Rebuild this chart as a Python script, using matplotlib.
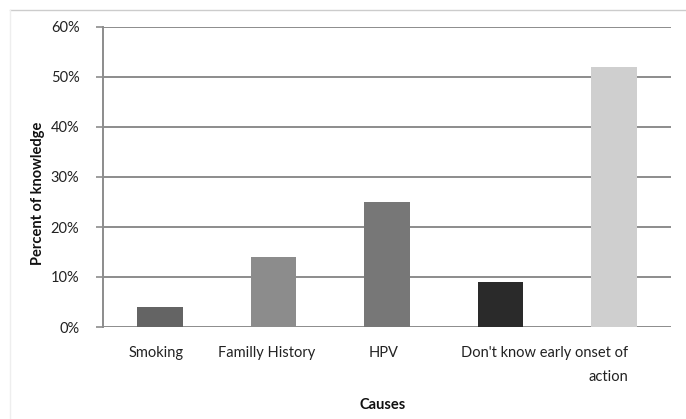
import matplotlib
matplotlib.use("Agg")
import matplotlib.pyplot as plt
import matplotlib.transforms as mtransforms
from matplotlib.ticker import FuncFormatter, MultipleLocator
from matplotlib.lines import Line2D

categories = ["Smoking", "Familly History", "HPV", "Don't know early onset of\naction", ""]
values = [4, 14, 25, 9, 52]
bar_colors = ["#646464", "#8c8c8c", "#777777", "#2a2a2a", "#cfcfcf"]

plt.rcParams['font.family'] = ['Lato', 'DejaVu Sans']

fig = plt.figure(figsize=(6.86, 4.19), dpi=100)
W, H = 686, 419
ax = fig.add_axes([103 / W, 1 - 327 / H, (671 - 103) / W, (327 - 27) / H])

x = list(range(len(values)))
ax.bar(x, values, width=0.4, color=bar_colors, zorder=3)
ax.set_xlim(-0.5, len(values) - 0.5)
ax.set_ylim(0, 60)
ax.yaxis.set_major_locator(MultipleLocator(10))
ax.yaxis.set_major_formatter(FuncFormatter(lambda v, p: f"{int(v)}%"))
ax.grid(axis='y', color='#8c8c8c', linewidth=1.4, zorder=0)
for s in ['top', 'right', 'bottom']:
    ax.spines[s].set_visible(False)
ax.spines['left'].set_color('#8c8c8c')
ax.spines['left'].set_linewidth(1.4)
ax.tick_params(axis='y', length=5, width=1.2, color='#8c8c8c', labelsize=10.5,
               labelcolor='#222222', pad=12)
ax.tick_params(axis='x', length=0, labelsize=10.5, labelcolor='#222222', pad=14)

ax.set_xticks(x)
ax.set_xticklabels(categories)
for lab, dx in zip(ax.get_xticklabels(), [-4, -7, -3, 44, 0]):
    lab.set_transform(lab.get_transform() + mtransforms.ScaledTranslation(dx / 100, 0, fig.dpi_scale_trans))
ax.get_xticklabels()[3].set_multialignment('right')
ax.get_xticklabels()[3].set_linespacing(1.9)

ax.set_ylabel("Percent of knowledge", fontsize=10.5, fontweight='bold', color='#111111')
ax.yaxis.set_label_coords(45 / W, 1 - 193 / H, transform=fig.transFigure)
fig.text(383 / W, 1 - 405 / H, "Causes", ha='center', va='center', fontsize=10.5,
         fontweight='bold', color='#111111')

# chart border
fig.add_artist(Line2D([10 / W, 1], [1 - 10 / H, 1 - 10 / H], transform=fig.transFigure,
                      color='#cccccc', linewidth=1))
fig.add_artist(Line2D([10 / W, 10 / W], [0, 1 - 10 / H], transform=fig.transFigure,
                      color='#eeeeee', linewidth=1))

fig.savefig("out.png", dpi=100)
